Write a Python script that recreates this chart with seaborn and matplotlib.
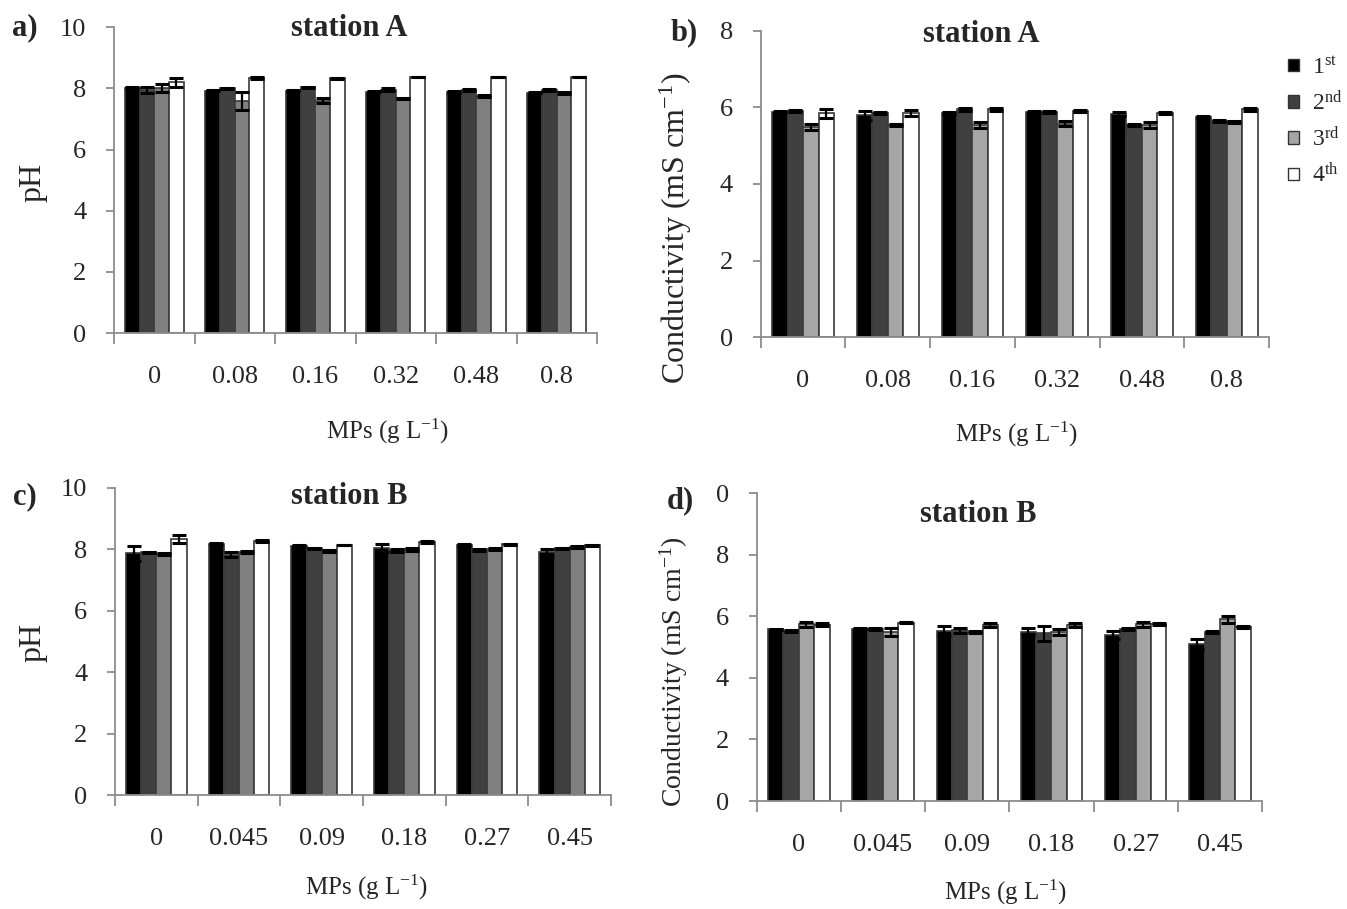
import numpy as np
import pandas as pd
import matplotlib
matplotlib.use("Agg")
import matplotlib.pyplot as plt
import seaborn as sns

# ---------------- data ----------------
samplings = ["1st", "2nd", "3rd", "4th"]
legend_labels = [r"1$^{\mathrm{st}}$", r"2$^{\mathrm{nd}}$", r"3$^{\mathrm{rd}}$", r"4$^{\mathrm{th}}$"]

mps_A = ["0", "0.08", "0.16", "0.32", "0.48", "0.8"]
mps_B = ["0", "0.045", "0.09", "0.18", "0.27", "0.45"]

# panel a: pH, station A
ph_A_1st = [8.03, 7.92, 7.92, 7.89, 7.88, 7.86]
ph_A_2nd = [7.95, 8.00, 8.04, 7.96, 7.95, 7.94]
ph_A_3rd = [8.00, 7.59, 7.60, 7.68, 7.76, 7.85]
ph_A_4th = [8.20, 8.33, 8.33, 8.38, 8.38, 8.38]
ph_A_err_1st = [0.02, 0.02, 0.02, 0.02, 0.02, 0.02]
ph_A_err_2nd = [0.10, 0.03, 0.02, 0.05, 0.03, 0.04]
ph_A_err_3rd = [0.13, 0.28, 0.08, 0.02, 0.03, 0.03]
ph_A_err_4th = [0.14, 0.03, 0.02, 0.00, 0.00, 0.00]

# panel b: conductivity, station A
ec_A_1st = [5.88, 5.80, 5.85, 5.88, 5.82, 5.75]
ec_A_2nd = [5.90, 5.85, 5.95, 5.88, 5.55, 5.65]
ec_A_3rd = [5.50, 5.55, 5.55, 5.58, 5.55, 5.62]
ec_A_4th = [5.85, 5.85, 5.95, 5.90, 5.85, 5.95]
ec_A_err_1st = [0.03, 0.12, 0.03, 0.02, 0.05, 0.02]
ec_A_err_2nd = [0.03, 0.03, 0.03, 0.02, 0.03, 0.03]
ec_A_err_3rd = [0.08, 0.03, 0.08, 0.06, 0.08, 0.03]
ec_A_err_4th = [0.12, 0.08, 0.03, 0.03, 0.03, 0.04]

# panel c: pH, station B
ph_B_1st = [7.87, 8.19, 8.12, 8.03, 8.14, 7.90]
ph_B_2nd = [7.90, 7.82, 8.03, 7.97, 7.97, 8.03]
ph_B_3rd = [7.85, 7.92, 7.95, 8.00, 8.00, 8.07]
ph_B_4th = [8.35, 8.27, 8.15, 8.24, 8.16, 8.13]
ph_B_err_1st = [0.24, 0.02, 0.02, 0.13, 0.02, 0.10]
ph_B_err_2nd = [0.02, 0.08, 0.02, 0.04, 0.03, 0.02]
ph_B_err_3rd = [0.03, 0.03, 0.04, 0.04, 0.03, 0.03]
ph_B_err_4th = [0.13, 0.03, 0.00, 0.03, 0.03, 0.02]

# panel d: conductivity, station B
ec_B_1st = [5.58, 5.60, 5.53, 5.50, 5.39, 5.10]
ec_B_2nd = [5.53, 5.58, 5.55, 5.45, 5.60, 5.50]
ec_B_3rd = [5.75, 5.49, 5.50, 5.50, 5.75, 5.90]
ec_B_4th = [5.73, 5.80, 5.72, 5.72, 5.75, 5.65]
ec_B_err_1st = [0.02, 0.02, 0.15, 0.12, 0.12, 0.15]
ec_B_err_2nd = [0.04, 0.03, 0.08, 0.25, 0.03, 0.04]
ec_B_err_3rd = [0.08, 0.12, 0.03, 0.10, 0.08, 0.12]
ec_B_err_4th = [0.05, 0.03, 0.08, 0.08, 0.02, 0.03]

ph_ticks = [0, 2, 4, 6, 8, 10]
ph_ticklabels = ["0", "2", "4", "6", "8", "10"]
ecA_ticks = [0, 2, 4, 6, 8]
ecA_ticklabels = ["0", "2", "4", "6", "8"]
ecB_ticks = [0, 2, 4, 6, 8, 10]
ecB_ticklabels = ["0", "2", "4", "6", "8", "0"]

# ---------------- style ----------------
sns.set_theme(style="white")
plt.rcParams["font.family"] = ["Liberation Serif", "DejaVu Serif"]
plt.rcParams["mathtext.fontset"] = "custom"
plt.rcParams["mathtext.rm"] = "Liberation Serif"
plt.rcParams["mathtext.it"] = "Liberation Serif:italic"
plt.rcParams["mathtext.bf"] = "Liberation Serif:bold"

pal_dark = ["#000000", "#404040", "#808080", "#ffffff"]
pal_light = ["#000000", "#404040", "#a6a6a6", "#ffffff"]
spine_c = "#8c8c8c"

W, H = 1347, 909
fig = plt.figure(figsize=(W / 100, H / 100), dpi=100)


def box(left, right, top, bottom):
    return [left / W, 1 - bottom / H, (right - left) / W, (bottom - top) / H]


def draw(ax, cats, series, errs, ymax, ticks, ticklabels, palette, xright):
    n = len(cats)
    df = pd.DataFrame({
        "MPs": np.tile(cats, 4),
        "Sampling": np.repeat(samplings, n),
        "value": np.concatenate(series),
    })
    sns.barplot(data=df, x="MPs", y="value", hue="Sampling", order=cats,
                hue_order=samplings, palette=palette, width=0.73, gap=0,
                errorbar=None, edgecolor="#3a3a3a", linewidth=1.2,
                ax=ax, legend=True)
    for cont, err in zip(ax.containers, errs):
        xs = [b.get_x() + b.get_width() / 2 for b in cont]
        ys = [b.get_height() for b in cont]
        ax.errorbar(xs, ys, yerr=err, fmt="none", ecolor="black",
                    elinewidth=1.6, capsize=5, capthick=2.2, zorder=5)
    ax.set_ylim(0, ymax)
    ax.set_xlim(-0.5, xright)
    ax.set_yticks(ticks)
    ax.set_yticklabels(ticklabels)
    ax.set_xticks(np.arange(-0.5, n, 1.0), minor=True)
    for s in ["top", "right"]:
        ax.spines[s].set_visible(False)
    for s in ["left", "bottom"]:
        ax.spines[s].set_color(spine_c)
        ax.spines[s].set_linewidth(1.3)
    ax.tick_params(axis="y", which="major", direction="out", length=6,
                   width=1.3, color=spine_c, labelsize=19, pad=14, left=True)
    ax.tick_params(axis="x", which="major", length=0, labelsize=19, pad=24)
    ax.tick_params(axis="x", which="minor", direction="out", length=8,
                   width=1.3, color=spine_c, bottom=True)
    ax.set_xlabel("")
    ax.set_ylabel("")
    ax.grid(False)


ax_a = fig.add_axes(box(114, 597, 27.3, 333))
ax_b = fig.add_axes(box(760.7, 1269, 31, 337))
ax_c = fig.add_axes(box(115, 611, 488, 795))
ax_d = fig.add_axes(box(756.7, 1262, 493.3, 801))

draw(ax_a, mps_A, [ph_A_1st, ph_A_2nd, ph_A_3rd, ph_A_4th],
     [ph_A_err_1st, ph_A_err_2nd, ph_A_err_3rd, ph_A_err_4th],
     10, ph_ticks, ph_ticklabels, pal_dark, 5.216)
draw(ax_b, mps_A, [ec_A_1st, ec_A_2nd, ec_A_3rd, ec_A_4th],
     [ec_A_err_1st, ec_A_err_2nd, ec_A_err_3rd, ec_A_err_4th],
     8, ecA_ticks, ecA_ticklabels, pal_light, 5.376)
draw(ax_c, mps_B, [ph_B_1st, ph_B_2nd, ph_B_3rd, ph_B_4th],
     [ph_B_err_1st, ph_B_err_2nd, ph_B_err_3rd, ph_B_err_4th],
     10, ph_ticks, ph_ticklabels, pal_dark, 5.37)
draw(ax_d, mps_B, [ec_B_1st, ec_B_2nd, ec_B_3rd, ec_B_4th],
     [ec_B_err_1st, ec_B_err_2nd, ec_B_err_3rd, ec_B_err_4th],
     10, ecB_ticks, ecB_ticklabels, pal_light, 5.37)

# legend (from panel b handles)
handles, _ = ax_b.get_legend_handles_labels()
for ax in (ax_a, ax_b, ax_c, ax_d):
    lg = ax.get_legend()
    if lg is not None:
        lg.remove()
leg = fig.legend(handles[:4], legend_labels, loc="upper left",
                 bbox_to_anchor=(1288 / W, 1 - 57 / H), frameon=False,
                 fontsize=17, handlelength=0.45, handleheight=0.45,
                 handletextpad=0.55, labelspacing=0.5, borderaxespad=0,
                 borderpad=0)
for p in leg.get_patches():
    p.set_edgecolor("#333333")
    p.set_linewidth(1.0)


def ftext(x, y, s, **kw):
    fig.text(x / W, 1 - y / H, s, ha="center", va="center", **kw)


# panel letters
ftext(25, 28, "a)", fontsize=22, fontweight="bold")
ftext(684, 33, "b)", fontsize=22, fontweight="bold")
ftext(25, 497, "c)", fontsize=22, fontweight="bold")
ftext(680, 501, "d)", fontsize=22, fontweight="bold")

# titles
ftext(349, 28, "station A", fontsize=22, fontweight="bold")
ftext(981, 35, "station A", fontsize=22, fontweight="bold")
ftext(349, 497, "station B", fontsize=22, fontweight="bold")
ftext(978, 515, "station B", fontsize=22, fontweight="bold")

# axis labels
xl = r"MPs (g L$^{-1}$)"
ftext(388, 431, xl, fontsize=18)
ftext(1017, 434, xl, fontsize=18)
ftext(367, 887, xl, fontsize=18)
ftext(1006, 892, xl, fontsize=18)

ftext(33, 182, "pH", fontsize=23, rotation=90)
ftext(33, 642, "pH", fontsize=23, rotation=90)
yl = r"Conductivity (mS cm$^{-1}$)"
ftext(676, 228, yl, fontsize=23, rotation=90)
ftext(674, 672, yl, fontsize=20, rotation=90)

fig.savefig("out.png", dpi=100)
